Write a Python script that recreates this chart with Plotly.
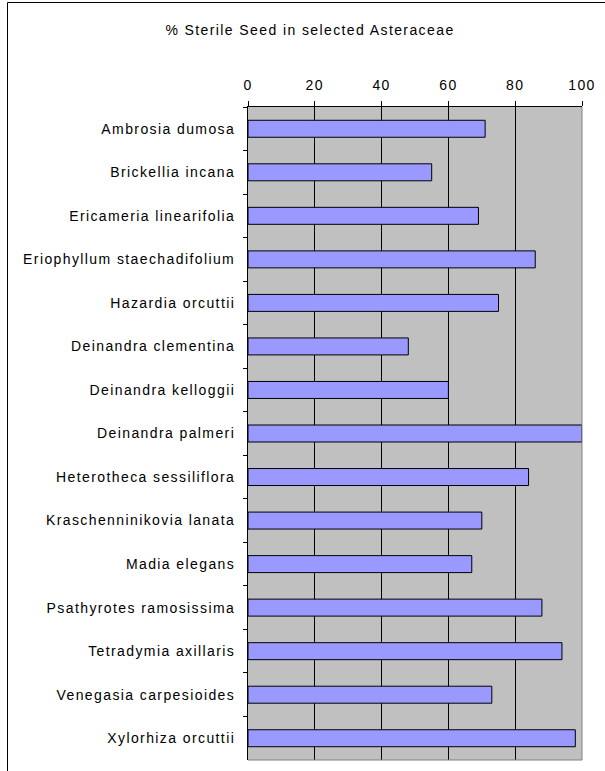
import plotly.graph_objects as go

species = [
    "Ambrosia dumosa",
    "Brickellia incana",
    "Ericameria linearifolia",
    "Eriophyllum staechadifolium",
    "Hazardia orcuttii",
    "Deinandra clementina",
    "Deinandra kelloggii",
    "Deinandra palmeri",
    "Heterotheca sessiliflora",
    "Kraschenninikovia lanata",
    "Madia elegans",
    "Psathyrotes ramosissima",
    "Tetradymia axillaris",
    "Venegasia carpesioides",
    "Xylorhiza orcuttii",
]
pct_sterile = [71, 55, 69, 86, 75, 48, 60, 100, 84, 70, 67, 88, 94, 73, 98]
x_ticks = [0, 20, 40, 60, 80, 100]
title_text = "% Sterile Seed in selected Asteraceae"

W, H = 605, 771
L, R, T, B = 248, 23, 107, 11
pw = W - L - R
ph = H - T - B

fig = go.Figure(
    go.Bar(
        x=pct_sterile,
        y=species,
        orientation="h",
        marker=dict(color="#9999FF", line=dict(color="#000000", width=1)),
        hoverinfo="x+y",
    )
)

font_family = "Liberation Sans, Arial, sans-serif"

fig.update_layout(
    width=W,
    height=H,
    margin=dict(l=L, r=R, t=T, b=B, pad=0),
    paper_bgcolor="#FFFFFF",
    plot_bgcolor="#C0C0C0",
    bargap=0.61,
    showlegend=False,
    font=dict(family=font_family, size=14, color="#000000"),
    title=dict(
        text=title_text,
        x=310 / W,
        xref="container",
        xanchor="center",
        y=1 - 30 / H,
        yref="container",
        yanchor="middle",
        font=dict(family=font_family, size=14, color="#000000"),
    ),
    xaxis=dict(
        side="top",
        range=[0, 100],
        tickvals=x_ticks,
        ticktext=[str(v) for v in x_ticks],
        ticks="outside",
        ticklen=5,
        tickcolor="#000000",
        tickwidth=1,
        showline=True,
        linecolor="#000000",
        linewidth=1,
        showgrid=True,
        gridcolor="#000000",
        gridwidth=1,
        zeroline=False,
        ticklabelstandoff=5,
        tickfont=dict(family=font_family, size=14, color="#000000"),
        fixedrange=True,
    ),
    yaxis=dict(
        type="category",
        autorange="reversed",
        ticks="outside",
        tickson="boundaries",
        ticklen=4,
        tickcolor="#000000",
        tickwidth=1,
        showline=True,
        linecolor="#000000",
        linewidth=1,
        showgrid=False,
        zeroline=False,
        ticklabelstandoff=9,
        tickfont=dict(family=font_family, size=14, color="#000000"),
        fixedrange=True,
    ),
    shapes=[
        # plot-area right and bottom edges (grey)
        dict(type="line", xref="paper", yref="paper", x0=1, x1=1, y0=0, y1=1,
             line=dict(color="#808080", width=1), layer="above"),
        dict(type="line", xref="paper", yref="paper", x0=0, x1=1, y0=0, y1=0,
             line=dict(color="#808080", width=1), layer="above"),
        # outer chart border (top and left visible)
        dict(type="rect", xref="paper", yref="paper",
             x0=(7.5 - L) / pw, x1=(W + 20 - L) / pw,
             y0=-(B + 20) / ph, y1=1 + (T - 2.5) / ph,
             line=dict(color="#000000", width=1), fillcolor="rgba(0,0,0,0)",
             layer="below"),
    ],
)

post = (
    "var s=document.createElement('style');"
    "s.textContent='html,body{margin:0;padding:0;overflow:hidden;}"
    ".js-plotly-plot .main-svg text{letter-spacing:1.4px}';"
    "document.head.appendChild(s);"
)

fig.write_html("out.html", post_script=post, config={"displayModeBar": False})
